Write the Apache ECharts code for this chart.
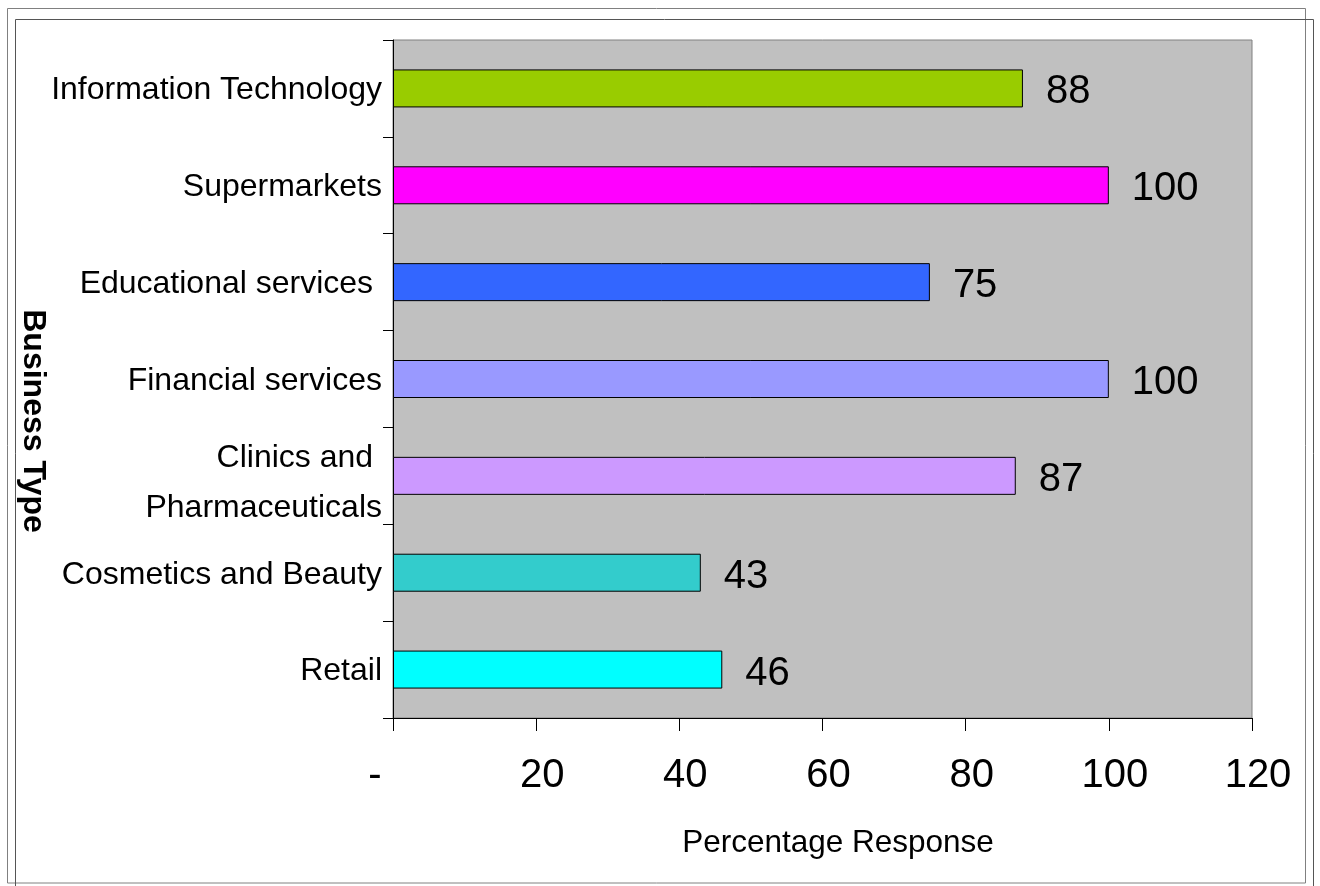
<!DOCTYPE html>
<html>
<head>
<meta charset="utf-8">
<script src="https://cdn.jsdelivr.net/npm/echarts@6/dist/echarts.min.js"></script>
<style>
  html, body { margin: 0; padding: 0; background: #fff; }
  #chart { width: 1320px; height: 886px; }
</style>
</head>
<body>
<div id="chart"></div>
<script>
// Categories listed bottom to top (as drawn on the category axis)
const categories = [
  "Retail",
  "Cosmetics and Beauty",
  "Clinics and \nPharmaceuticals",
  "Financial services",
  "Educational services ",
  "Supermarkets",
  "Information Technology"
];
const values = [46, 43, 87, 100, 75, 100, 88];
const barColors = ["#00FFFF", "#33CCCC", "#CC99FF", "#9999FF", "#3366FF", "#FF00FF", "#99CC00"];
const xTicks = [0, 20, 40, 60, 80, 100, 120];
const xTitle = "Percentage Response";
const yTitle = "Business Type";

const FONT = "Liberation Sans, Arial, sans-serif";
const chart = echarts.init(document.getElementById('chart'), null, { renderer: 'canvas' });

chart.setOption({
  backgroundColor: '#ffffff',
  animation: false,
  grid: {
    left: 393, right: 68, top: 40, bottom: 168,
    show: true, backgroundColor: '#C0C0C0', borderColor: '#808080', borderWidth: 1
  },
  xAxis: {
    type: 'value',
    min: xTicks[0], max: xTicks[xTicks.length - 1], interval: xTicks[1] - xTicks[0],
    splitLine: { show: false },
    axisLine: { show: true, lineStyle: { color: '#000', width: 1 } },
    axisTick: { show: true, length: 13, lineStyle: { color: '#000', width: 1 } },
    axisLabel: {
      color: '#000', fontSize: 40, fontFamily: FONT, margin: 38,
      padding: [0, 0, 0, 12],
      formatter: function (v) { return v === 0 ? '{d|-}' : String(v); },
      rich: { d: { fontSize: 40, fontFamily: FONT, color: '#000', padding: [0, 48, 0, 0] } }
    }
  },
  yAxis: {
    type: 'category',
    data: categories,
    axisLine: { show: true, lineStyle: { color: '#000', width: 1 } },
    axisTick: { show: true, length: 10, lineStyle: { color: '#000', width: 1 } },
    axisLabel: {
      color: '#000', fontSize: 32, fontFamily: FONT, margin: 11,
      formatter: function (v) {
        if (v.indexOf('\n') >= 0) {
          return '{s| }\n' + v.split('\n').map(l => '{a|' + l + '}').join('\n');
        }
        return '{a|' + v + '}';
      },
      rich: {
        a: { fontSize: 32, fontFamily: FONT, color: '#000', lineHeight: 50, padding: [4, 0, 0, 0] },
        s: { fontSize: 8, lineHeight: 10 }
      }
    }
  },
  series: [{
    type: 'bar',
    barWidth: 38,
    data: values.map((v, i) => ({ value: v, itemStyle: { color: barColors[i] } })),
    itemStyle: { borderColor: '#000', borderWidth: 1 },
    label: {
      show: true, position: 'right', distance: 23, offset: [0, 4],
      color: '#000', fontSize: 40, fontFamily: FONT
    }
  }],
  graphic: [
    { type: 'rect', shape: { x: 7.5, y: 8.5, width: 1298, height: 874.5 },
      style: { fill: null, stroke: '#808080', lineWidth: 1 }, silent: true },
    { type: 'rect', shape: { x: 15.5, y: 19.5, width: 1298, height: 874 },
      style: { fill: null, stroke: '#555555', lineWidth: 1 }, silent: true },
    { type: 'text', x: 838, y: 843,
      style: { text: xTitle, fontSize: 31.5, fontFamily: FONT, fill: '#000', textAlign: 'center', textVerticalAlign: 'middle' } },
    { type: 'text', x: 33, y: 421, rotation: -Math.PI / 2,
      style: { text: yTitle, fontSize: 32, fontWeight: 'bold', fontFamily: FONT, fill: '#000', textAlign: 'center', textVerticalAlign: 'middle' } }
  ]
});
</script>
</body>
</html>
